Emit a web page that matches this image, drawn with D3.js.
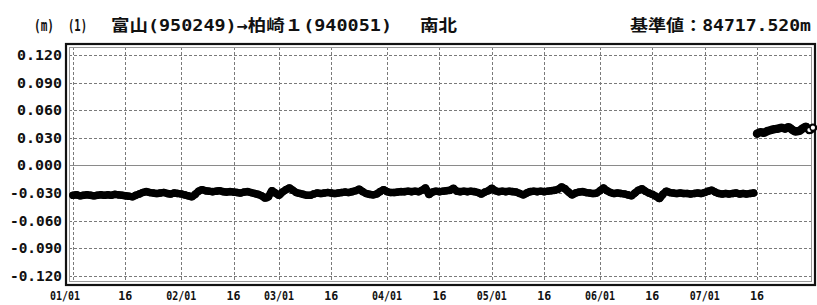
<!DOCTYPE html>
<html>
<head>
<meta charset="utf-8">
<script src="https://cdnjs.cloudflare.com/ajax/libs/d3/7.8.5/d3.min.js"></script>
<style>
  body { margin: 0; background: #fff; }
  svg text { font-family: "DejaVu Sans Mono", "Noto Sans CJK JP", monospace; fill: #111; }
  .grid { stroke: #7a7a7a; stroke-width: 1; stroke-dasharray: 3,2; }
</style>
</head>
<body>
<div id="chart"></div>
<script>
// daily north-south component, mm, starting 01/01
const series1 = [
  -32.5,-32.0,-33.0,-32.5,-32.0,-32.5,-33.0,-32.5,-32.0,-32.5,
  -32.0,-32.5,-31.5,-32.0,-32.5,-33.0,-33.5,-34.0,-32.5,-31.0,
  -29.5,-28.5,-29.5,-30.0,-30.5,-30.0,-29.5,-30.5,-31.0,-30.0,
  -30.5,-31.0,-32.0,-33.0,-34.0,-31.5,-28.0,-26.5,-27.5,-28.0,
  -28.5,-28.0,-27.5,-28.5,-29.0,-28.5,-29.0,-29.5,-30.0,-29.0,
  -28.5,-29.5,-30.5,-31.5,-33.0,-35.5,-34.0,-27.5,-30.0,-32.5,
  -29.0,-26.5,-24.5,-27.0,-29.5,-30.5,-31.5,-32.5,-32.5,-31.0,
  -30.0,-30.5,-30.0,-29.5,-30.0,-30.5,-30.0,-29.5,-29.0,-29.5,
  -28.5,-27.5,-26.0,-28.5,-30.5,-31.5,-32.0,-31.0,-28.5,-26.5,
  -28.5,-29.5,-29.5,-29.0,-28.5,-28.5,-28.0,-28.5,-28.0,-28.5,
  -27.0,-24.5,-31.5,-29.0,-28.0,-28.5,-28.0,-27.5,-27.0,-25.0,
  -28.0,-28.5,-28.0,-28.5,-28.0,-28.5,-29.5,-31.0,-29.0,-27.5,
  -25.0,-27.5,-28.5,-28.0,-28.5,-28.0,-28.5,-29.0,-30.5,-32.0,
  -30.0,-28.5,-28.0,-28.5,-28.0,-28.5,-28.0,-27.5,-27.0,-26.0,
  -23.5,-25.5,-29.0,-32.0,-30.0,-29.0,-28.5,-29.5,-30.0,-30.5,
  -30.0,-27.5,-24.5,-27.5,-29.5,-30.5,-30.0,-30.5,-31.0,-32.0,
  -33.0,-30.0,-27.0,-25.5,-28.0,-30.0,-31.5,-33.5,-36.0,-31.5,
  -28.0,-29.5,-30.0,-30.5,-30.0,-30.5,-30.5,-31.0,-30.5,-30.0,
  -30.5,-29.5,-28.0,-27.0,-29.0,-30.5,-31.0,-30.5,-31.0,-30.5,
  -30.0,-31.0,-30.5,-31.0,-30.5,-30.0
];
// after the step, starting day 196 (07/16)
const series2 = [
  34.5, 36.0, 35.5, 37.5, 38.5, 39.5, 40.0, 41.0, 40.0, 41.5,
  39.0, 37.0, 37.5, 40.0, 42.0, 38.5, 41.0
];
const series2Start = 196;

const yTicks = [0.120, 0.090, 0.060, 0.030, 0.000, -0.030, -0.060, -0.090, -0.120];
const xTickDates = ['01/01','01/16','02/01','02/16','03/01','03/16','04/01','04/16',
                    '05/01','05/16','06/01','06/16','07/01','07/16'];
const xTickLabels = ['01/01','16','02/01','16','03/01','16','04/01','16',
                     '05/01','16','06/01','16','07/01','16'];

const W = 817, H = 305;
const m = {left: 66, right: 815, top: 44, bottom: 285};
const year = 2005;
const day0 = Date.UTC(year, 0, 1);
const DAY = 864e5;
const toDate = s => new Date(Date.UTC(year, +s.slice(0, 2) - 1, +s.slice(3)));

const svg = d3.select('#chart').append('svg')
  .attr('width', W).attr('height', H);

const x = d3.scaleUtc()
  .domain([new Date(day0 - 2 * DAY), new Date(day0 + 212.6 * DAY)])
  .range([m.left, m.right]);
const y = d3.scaleLinear()
  .domain([-0.130, 0.132])
  .range([m.bottom, m.top]);

// grid
svg.append('g').selectAll('line')
  .data(yTicks)
  .join('line')
  .attr('class', d => d === 0 ? null : 'grid')
  .attr('stroke', d => d === 0 ? '#8a8a8a' : null)
  .attr('x1', m.left + 3).attr('x2', m.right - 3)
  .attr('y1', d => Math.round(y(d)) + 0.5).attr('y2', d => Math.round(y(d)) + 0.5);

svg.append('g').selectAll('line')
  .data(xTickDates)
  .join('line')
  .attr('class', 'grid')
  .attr('x1', d => Math.round(x(toDate(d))) + 0.5).attr('x2', d => Math.round(x(toDate(d))) + 0.5)
  .attr('y1', m.top + 3).attr('y2', m.bottom - 3);

// frame (double line)
svg.append('rect')
  .attr('x', m.left + 3.5).attr('y', m.top + 3.5)
  .attr('width', m.right - m.left - 7).attr('height', m.bottom - m.top - 7)
  .attr('fill', 'none').attr('stroke', '#999').attr('stroke-width', 1);
svg.append('rect')
  .attr('x', m.left).attr('y', m.top)
  .attr('width', m.right - m.left).attr('height', m.bottom - m.top)
  .attr('fill', 'none').attr('stroke', '#111').attr('stroke-width', 2.2);

// y labels
svg.append('g').selectAll('text')
  .data(yTicks)
  .join('text')
  .attr('x', 62).attr('y', d => y(d) + 5)
  .attr('text-anchor', 'end')
  .attr('font-size', 14).attr('font-weight', 'bold')
  .attr('textLength', d => d < 0 ? 52 : 45).attr('lengthAdjust', 'spacingAndGlyphs')
  .text(d => d3.format('.3f')(d).replace('−', '-'));

// x labels
svg.append('g').selectAll('text')
  .data(xTickDates)
  .join('text')
  .attr('x', (d, i) => x(toDate(d)) - (i === 0 ? 8 : 0))
  .attr('y', 300)
  .attr('text-anchor', 'middle')
  .attr('font-size', 13).attr('font-weight', 'bold')
  .attr('textLength', (d, i) => xTickLabels[i].length > 2 ? 30 : 14)
  .attr('lengthAdjust', 'spacingAndGlyphs')
  .text((d, i) => xTickLabels[i]);

// data
const pts1 = series1.map((v, i) => ({t: new Date(day0 + i * DAY), v: v / 1000}));
const pts2 = series2.map((v, i) => ({t: new Date(day0 + (series2Start + i) * DAY), v: v / 1000}));
const line = d3.line().x(d => x(d.t)).y(d => y(d.v)).curve(d3.curveMonotoneX);

[pts1, pts2].forEach((pts, k) => {
  svg.append('path')
    .datum(pts)
    .attr('d', line)
    .attr('fill', 'none').attr('stroke', '#000')
    .attr('stroke-width', k ? 8.5 : 7.5)
    .attr('stroke-linejoin', 'round').attr('stroke-linecap', 'round');
  svg.append('g').selectAll('circle')
    .data(pts)
    .join('circle')
    .attr('cx', d => x(d.t)).attr('cy', d => y(d.v))
    .attr('r', 3.8).attr('fill', '#000');
});
// last points drawn hollow
svg.append('g').selectAll('circle')
  .data(pts2.slice(-2))
  .join('circle')
  .attr('cx', d => x(d.t)).attr('cy', d => y(d.v))
  .attr('r', 2.8).attr('fill', '#fff').attr('stroke', '#000').attr('stroke-width', 1.4);

// title
const title = [
  {t: '(m)', x: 34, w: 20},
  {t: '(1)', x: 68, w: 19},
  {t: '富山(950249)→柏崎１(940051)', x: 111, w: 281},
  {t: '南北', x: 420, w: 37}
];
svg.append('g').selectAll('text')
  .data(title)
  .join('text')
  .attr('x', d => d.x).attr('y', 31)
  .attr('font-size', 16).attr('font-weight', 'bold')
  .attr('textLength', d => d.w).attr('lengthAdjust', 'spacingAndGlyphs')
  .text(d => d.t);

svg.append('text')
  .attr('x', 630).attr('y', 31)
  .attr('font-size', 16).attr('font-weight', 'bold')
  .attr('textLength', 181).attr('lengthAdjust', 'spacingAndGlyphs')
  .text('基準値：84717.520m');
</script>
</body>
</html>
